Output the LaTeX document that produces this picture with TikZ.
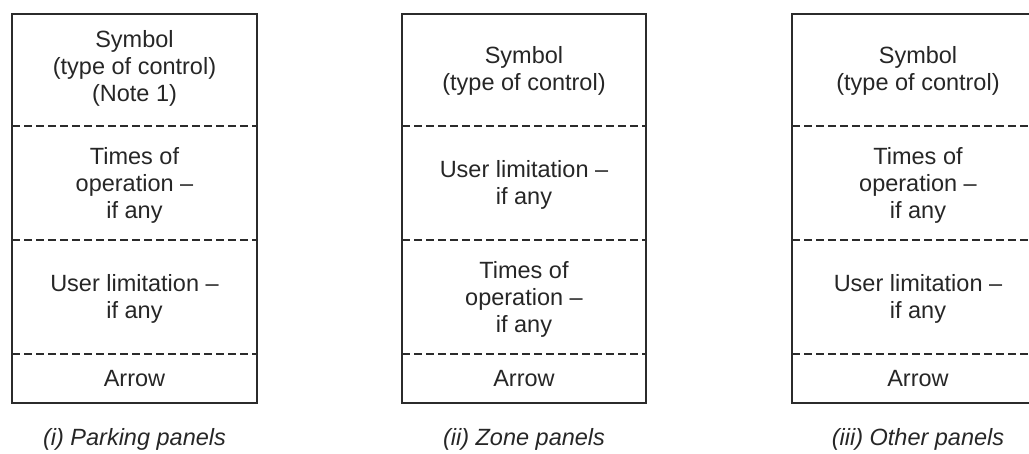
\documentclass[tikz,border=0pt]{standalone}
\usepackage{fontspec}
\setmainfont{Liberation Sans}
\definecolor{linecol}{HTML}{2B2B2B}
\definecolor{txtcol}{HTML}{262626}
\begin{document}
\begin{tikzpicture}[x=1pt,y=-1pt,
  panelbox/.style={draw=linecol, line width=1.8pt},
  divider/.style={draw=linecol, line width=1.6pt, dash pattern=on 8pt off 4pt},
  celltext/.style={align=center, font=\fontsize{23.5}{27}\selectfont, text=txtcol, inner sep=0pt},
  captext/.style={anchor=base, font=\fontsize{23.5}{27}\selectfont\itshape, text=txtcol, inner sep=0pt}]
\useasboundingbox (0,0) rectangle (1029,453);
\clip (0,0) rectangle (1029,453);

% ---------- Panel (i) ----------
\draw[panelbox] (12,14) rectangle (257,403);
\coordinate (a1l) at (12,126);  \coordinate (a1r) at (257,126);
\coordinate (a2l) at (12,240);  \coordinate (a2r) at (257,240);
\coordinate (a3l) at (12,354);  \coordinate (a3r) at (257,354);
\draw[divider] (a1l) -- (a1r);
\draw[divider] (a2l) -- (a2r);
\draw[divider] (a3l) -- (a3r);
\node[celltext] (a-sym) at (134.5,68) {Symbol\\(type of control)\\(Note 1)};
\node[celltext] (a-time) at (134.5,185) {Times of\\operation --\\if any};
\node[celltext] (a-user) at (134.5,299) {User limitation --\\if any};
\node[celltext] (a-arrow) at (134.5,379) {Arrow};
\node[captext] (a-cap) at (134.5,445) {(i) Parking panels};

% ---------- Panel (ii) ----------
\draw[panelbox] (402,14) rectangle (646,403);
\coordinate (b1l) at (402,126);  \coordinate (b1r) at (646,126);
\coordinate (b2l) at (402,240);  \coordinate (b2r) at (646,240);
\coordinate (b3l) at (402,354);  \coordinate (b3r) at (646,354);
\draw[divider] (b1l) -- (b1r);
\draw[divider] (b2l) -- (b2r);
\draw[divider] (b3l) -- (b3r);
\node[celltext] (b-sym) at (524,71) {Symbol\\(type of control)};
\node[celltext] (b-user) at (524,185) {User limitation --\\if any};
\node[celltext] (b-time) at (524,299) {Times of\\operation --\\if any};
\node[celltext] (b-arrow) at (524,379) {Arrow};
\node[captext] (b-cap) at (524,445) {(ii) Zone panels};

% ---------- Panel (iii) ----------
\draw[panelbox] (792,14) rectangle (1044,403);
\coordinate (c1l) at (792,126);  \coordinate (c1r) at (1044,126);
\coordinate (c2l) at (792,240);  \coordinate (c2r) at (1044,240);
\coordinate (c3l) at (792,354);  \coordinate (c3r) at (1044,354);
\draw[divider] (c1l) -- (c1r);
\draw[divider] (c2l) -- (c2r);
\draw[divider] (c3l) -- (c3r);
\node[celltext] (c-sym) at (918,71) {Symbol\\(type of control)};
\node[celltext] (c-time) at (918,185) {Times of\\operation --\\if any};
\node[celltext] (c-user) at (918,299) {User limitation --\\if any};
\node[celltext] (c-arrow) at (918,379) {Arrow};
\node[captext] (c-cap) at (918,445) {(iii) Other panels};
\end{tikzpicture}
\end{document}
